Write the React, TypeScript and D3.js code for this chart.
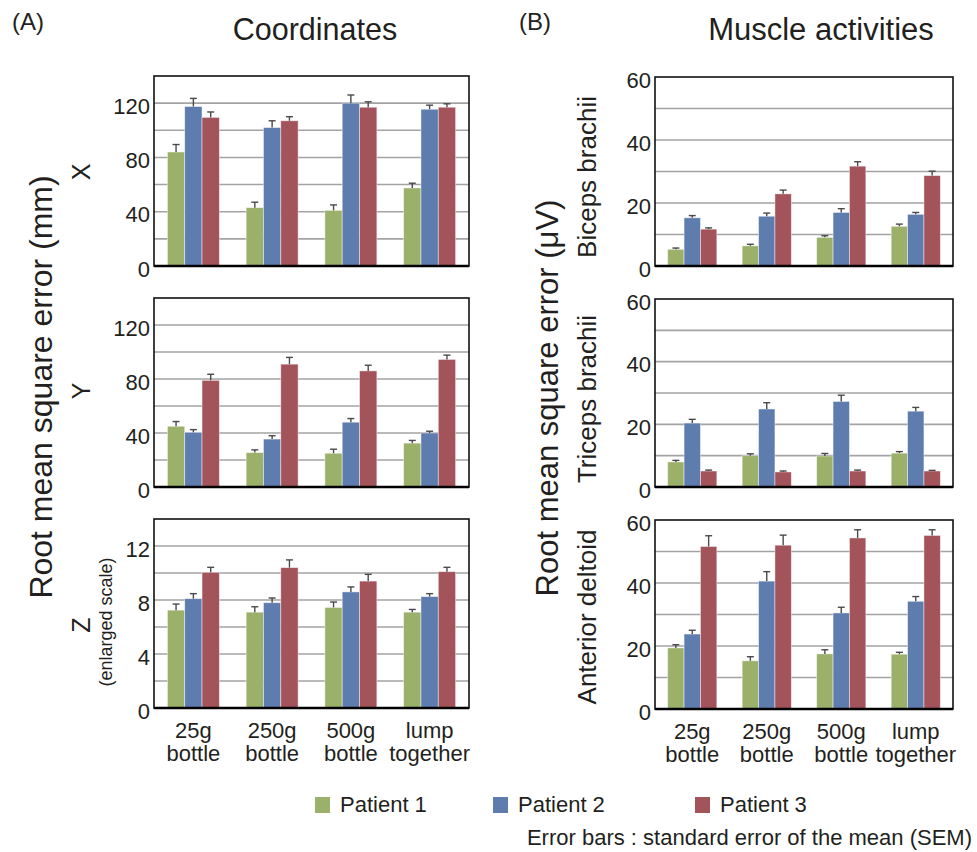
import React from "react";
import * as d3 from "d3";

const categoryLines = [
  ["25g", "bottle"],
  ["250g", "bottle"],
  ["500g", "bottle"],
  ["lump", "together"],
];
const categories = categoryLines.map((c) => c.join(" "));
const patients = ["Patient 1", "Patient 2", "Patient 3"];
const colors = ["#9bb16a", "#5f7caf", "#a3535a"];

// rows = patients, cols = categories
const xMean = [[84, 43, 41, 57.5], [117.5, 102, 120, 115.5], [109.5, 107, 117, 117]];
const xSem = [[5.5, 4, 4, 3.5], [6, 5, 6, 3], [4, 3, 4, 2.5]];
const yMean = [[45, 25.5, 25, 32.5], [40.5, 35.5, 48, 40], [79, 91, 86, 94.5]];
const ySem = [[3.5, 2, 3, 2], [2, 2.5, 2.7, 1.3], [4.5, 5, 4.2, 3.2]];
const zMean = [[7.25, 7.1, 7.45, 7.1], [8.1, 7.8, 8.6, 8.25], [10.05, 10.4, 9.4, 10.1]];
const zSem = [[0.45, 0.4, 0.4, 0.2], [0.37, 0.35, 0.37, 0.22], [0.37, 0.57, 0.5, 0.32]];
const bicepsMean = [[5.3, 6.4, 9.1, 12.6], [15.3, 15.8, 17, 16.4], [11.7, 22.9, 31.7, 28.7]];
const bicepsSem = [[0.4, 0.5, 0.5, 0.7], [0.7, 1, 1.2, 0.6], [0.4, 1.2, 1.4, 1.4]];
const tricepsMean = [[8, 10, 9.9, 10.8], [20.4, 24.9, 27.3, 24.2], [5.1, 4.8, 5.1, 5.1]];
const tricepsSem = [[0.5, 0.6, 0.8, 0.5], [1.2, 2, 2, 1.2], [0.3, 0.3, 0.3, 0.2]];
const deltoidMean = [[19.4, 15.3, 17.5, 17.4], [23.8, 40.6, 30.5, 34.2], [51.6, 52, 54.3, 55.1]];
const deltoidSem = [[1, 1.3, 1.3, 0.6], [1.2, 3, 1.8, 1.5], [3.4, 3.2, 2.6, 1.8]];

const mmTicks = [0, 40, 80, 120];
const zTicks = [0, 4, 8, 12];
const uvTicks = [0, 20, 40, 60];

const FONT = "'Liberation Sans', Arial, Helvetica, sans-serif";
const TEXT = "#231f20";

function Panel({ x0, x1, top, bottom, max, step, ticks, mean, sem, showCats }) {
  const x = d3.scaleBand().domain(categories).range([x0, x1]).paddingInner(0.34).paddingOuter(0.17);
  const inner = d3.scaleBand().domain(patients).range([0, x.bandwidth()]);
  const y = d3.scaleLinear().domain([0, max]).range([bottom, top]);
  const grid = d3.range(step, max, step);
  return (
    <g>
      {grid.map((g) => (
        <line key={g} x1={x0} x2={x1} y1={y(g)} y2={y(g)} stroke="#a3a3a3" strokeWidth={1.6} />
      ))}
      {patients.map((p, pi) =>
        categories.map((c, ci) => {
          const bx = x(c) + inner(p);
          const v = mean[pi][ci];
          return (
            <rect key={p + c} x={bx} y={y(v)} width={inner.bandwidth()} height={y(0) - y(v)}
              fill={colors[pi]} stroke="rgba(255,255,255,0.55)" strokeWidth={0.8} />
          );
        })
      )}
      {patients.map((p, pi) =>
        categories.map((c, ci) => {
          const cx = x(c) + inner(p) + inner.bandwidth() / 2;
          const v = mean[pi][ci];
          const e = v + sem[pi][ci];
          return (
            <g key={"e" + p + c} stroke="#4a4a4a" strokeWidth={1.4}>
              <line x1={cx} x2={cx} y1={y(v)} y2={y(e)} />
              <line x1={cx - 3.5} x2={cx + 3.5} y1={y(e)} y2={y(e)} />
            </g>
          );
        })
      )}
      <rect x={x0} y={top} width={x1 - x0} height={bottom - top} fill="none" stroke="#111" strokeWidth={1.6} />
      <line x1={x0} x2={x1} y1={bottom} y2={bottom} stroke="#000" strokeWidth={2.6} />
      {ticks.map((t) => (
        <text key={t} x={x0 - 4} y={y(t) + 3} textAnchor="end" dominantBaseline="central"
          fontSize={22} fill={TEXT}>{t}</text>
      ))}
      {showCats &&
        categoryLines.map((lines, ci) => (
          <text key={ci} x={x(categories[ci]) + x.bandwidth() / 2} y={bottom + 30} textAnchor="middle"
            fontSize={22} fill={TEXT}>
            <tspan x={x(categories[ci]) + x.bandwidth() / 2} dy={0}>{lines[0]}</tspan>
            <tspan x={x(categories[ci]) + x.bandwidth() / 2} dy={23}>{lines[1]}</tspan>
          </text>
        ))}
    </g>
  );
}

function VText({ x, y, size, children }) {
  return (
    <text transform={`translate(${x},${y}) rotate(-90)`} textAnchor="middle" fontSize={size} fill={TEXT}>
      {children}
    </text>
  );
}

export default function App() {
  const L = { x0: 154, x1: 469 };
  const R = { x0: 655, x1: 953 };
  return (
    <svg width={977} height={852} style={{ position: "absolute", left: 0, top: 0 }} fontFamily={FONT}>
      <rect width={977} height={852} fill="#fff" />
      <text x={12} y={30} fontSize={24} fill={TEXT}>(A)</text>
      <text x={519} y={30} fontSize={24} fill={TEXT}>(B)</text>
      <text x={315} y={40} textAnchor="middle" fontSize={30.5} fill={TEXT}>Coordinates</text>
      <text x={821} y={40} textAnchor="middle" fontSize={31} fill={TEXT}>Muscle activities</text>

      <VText x={52} y={387} size={32}>Root mean square error (mm)</VText>
      <VText x={90} y={172} size={25}>X</VText>
      <VText x={90} y={391} size={25}>Y</VText>
      <VText x={90} y={625} size={25}>Z</VText>
      <VText x={112} y={622} size={18}>(enlarged scale)</VText>

      <VText x={558} y={398} size={31}>Root mean square error (μV)</VText>
      <VText x={596} y={177} size={26}>Biceps brachii</VText>
      <VText x={596} y={399} size={26}>Triceps brachii</VText>
      <VText x={596} y={617} size={26}>Anterior deltoid</VText>

      <Panel {...L} top={76} bottom={266} max={140} step={20} ticks={mmTicks} mean={xMean} sem={xSem} />
      <Panel {...L} top={298} bottom={487} max={140} step={20} ticks={mmTicks} mean={yMean} sem={ySem} />
      <Panel {...L} top={519} bottom={708} max={14} step={2} ticks={zTicks} mean={zMean} sem={zSem} showCats />

      <Panel {...R} top={77} bottom={266} max={60} step={10} ticks={uvTicks} mean={bicepsMean} sem={bicepsSem} />
      <Panel {...R} top={299} bottom={487} max={60} step={10} ticks={uvTicks} mean={tricepsMean} sem={tricepsSem} />
      <Panel {...R} top={520} bottom={709} max={60} step={10} ticks={uvTicks} mean={deltoidMean} sem={deltoidSem} showCats />

      {patients.map((p, i) => {
        const lx = [315, 493, 695][i];
        return (
          <g key={p}>
            <rect x={lx} y={797} width={15} height={16} fill={colors[i]} />
            <text x={lx + 25} y={812} fontSize={22} fill={TEXT}>{p}</text>
          </g>
        );
      })}
      <text x={972} y={845} textAnchor="end" fontSize={22} fill={TEXT}>
        Error bars : standard error of the mean (SEM)
      </text>
    </svg>
  );
}
